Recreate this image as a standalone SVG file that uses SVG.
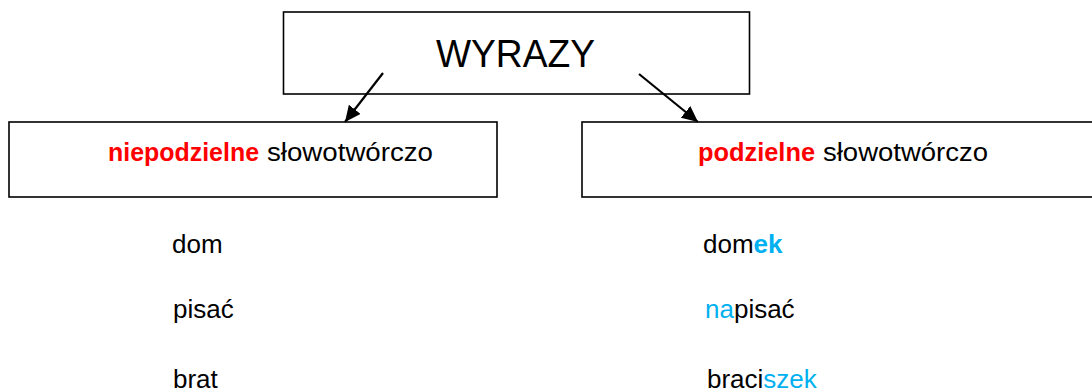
<svg xmlns="http://www.w3.org/2000/svg" width="1092" height="392" viewBox="0 0 1092 392">
  <style>
    .box { fill: #ffffff; stroke: #000000; stroke-width: 1.6; }
    .t { font-family: "Liberation Sans", Arial, sans-serif; fill: #000000; }
    .w { font-size: 26px; }
    .red { fill: #ff0000; font-weight: bold; }
    .blue { fill: #00b0f0; }
    .conn { stroke: #000000; stroke-width: 2.2; fill: none; }
  </style>
  <defs>
    <marker id="arrow" markerUnits="userSpaceOnUse" markerWidth="18" markerHeight="16" refX="16" refY="7.5" orient="auto">
      <path d="M0,0 L16,7.5 L0,15 z" fill="#000000"/>
    </marker>
  </defs>
  <rect width="1092" height="392" fill="#ffffff"/>

  <g id="node-wyrazy">
    <rect class="box" x="283.5" y="12" width="466" height="82"/>
    <text class="t" x="436" y="67" font-size="38" textLength="159" lengthAdjust="spacingAndGlyphs">WYRAZY</text>
  </g>

  <g id="node-niepodzielne">
    <rect class="box" x="9" y="122" width="488" height="75"/>
    <text class="t" font-size="25" y="161">
      <tspan class="red" x="108" textLength="151" lengthAdjust="spacingAndGlyphs">niepodzielne</tspan>
      <tspan x="267" textLength="166" lengthAdjust="spacingAndGlyphs">słowotwórczo</tspan>
    </text>
  </g>

  <g id="node-podzielne">
    <rect class="box" x="582" y="122" width="530" height="75"/>
    <text class="t" font-size="25" y="161">
      <tspan class="red" x="698" textLength="117" lengthAdjust="spacingAndGlyphs">podzielne</tspan>
      <tspan x="823" textLength="165" lengthAdjust="spacingAndGlyphs">słowotwórczo</tspan>
    </text>
  </g>

  <g id="connectors">
    <line class="conn" x1="383" y1="73" x2="345" y2="122" marker-end="url(#arrow)"/>
    <line class="conn" x1="639" y1="74" x2="698" y2="122" marker-end="url(#arrow)"/>
  </g>

  <g id="words-left">
    <text class="t w" x="172" y="253">dom</text>
    <text class="t w" x="173" y="318">pisać</text>
    <text class="t w" x="173" y="388">brat</text>
  </g>

  <g id="words-right">
    <text class="t w" x="703" y="253">dom<tspan class="blue" font-weight="bold">ek</tspan></text>
    <text class="t w" x="705" y="318"><tspan class="blue">na</tspan>pisać</text>
    <text class="t w" x="707" y="388">braci<tspan class="blue">szek</tspan></text>
  </g>
</svg>
